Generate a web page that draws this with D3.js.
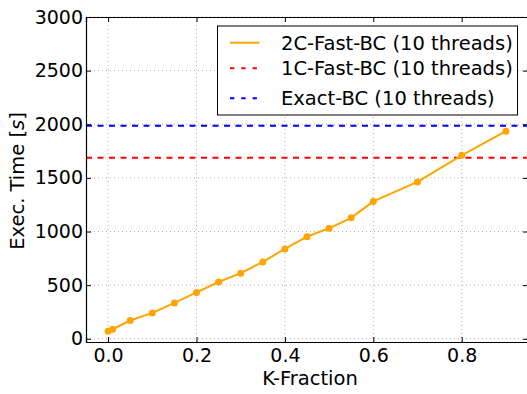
<!DOCTYPE html>
<html>
<head>
<meta charset="utf-8">
<script src="https://cdn.jsdelivr.net/npm/d3@7"></script>
<style>
  body { margin: 0; background: #fff; }
  svg { font-family: "DejaVu Sans", sans-serif; }
</style>
</head>
<body>
<div id="chart"></div>
<script>
// data
var kFraction = [0, 0.01, 0.05, 0.1, 0.15, 0.2, 0.25, 0.3, 0.35, 0.4, 0.45, 0.5, 0.55, 0.6, 0.7, 0.8, 0.9];
var twoCTime = [70, 89, 170, 241, 334, 432, 529, 612, 717, 838, 952, 1030, 1128, 1281, 1462, 1710, 1936];
var oneCTime = 1688;
var exactTime = 1985;
var xTicks = [0, 0.2, 0.4, 0.6, 0.8];
var yTicks = [0, 500, 1000, 1500, 2000, 2500, 3000];
var legendLabels = ["2C-Fast-BC (10 threads)", "1C-Fast-BC (10 threads)", "Exact-BC (10 threads)"];

var W = 527, H = 394;
var margin = {top: 17, right: -1, bottom: 52, left: 86},
    width = W - margin.left - margin.right,
    height = H - margin.top - margin.bottom;

var svg = d3.select("#chart")
  .append("svg")
    .attr("width", W)
    .attr("height", H)
  .append("g")
    .attr("transform", "translate(" + margin.left + "," + margin.top + ")");

var x = d3.scaleLinear().domain([-0.05, 0.95]).range([0, width]);
var y = d3.scaleLinear().domain([-30, 3000]).range([height, 0]);

// grid
svg.append("g").selectAll("line")
  .data(xTicks).enter().append("line")
    .attr("x1", d => x(d)).attr("x2", d => x(d))
    .attr("y1", 0).attr("y2", height)
    .attr("stroke", "#b0b0b0").attr("stroke-width", 1)
    .attr("stroke-dasharray", "1,3");
svg.append("g").selectAll("line")
  .data(yTicks).enter().append("line")
    .attr("y1", d => y(d)).attr("y2", d => y(d))
    .attr("x1", 0).attr("x2", width)
    .attr("stroke", "#b0b0b0").attr("stroke-width", 1)
    .attr("stroke-dasharray", "1,3");

// reference lines
svg.append("line")
  .attr("x1", 0).attr("x2", width)
  .attr("y1", y(oneCTime)).attr("y2", y(oneCTime))
  .attr("stroke", "#ff0000").attr("stroke-width", 2)
  .attr("stroke-dasharray", "6,5.5");
svg.append("line")
  .attr("x1", 0).attr("x2", width)
  .attr("y1", y(exactTime)).attr("y2", y(exactTime))
  .attr("stroke", "#0000ff").attr("stroke-width", 2)
  .attr("stroke-dasharray", "6,5.5");

// 2C line
var pts = kFraction.map((k, i) => [k, twoCTime[i]]);
svg.append("path")
  .datum(pts)
  .attr("fill", "none")
  .attr("stroke", "#ffa500")
  .attr("stroke-width", 2)
  .attr("d", d3.line().x(d => x(d[0])).y(d => y(d[1])));
svg.selectAll(".dot")
  .data(pts).enter().append("circle")
    .attr("cx", d => x(d[0])).attr("cy", d => y(d[1]))
    .attr("r", 3.5)
    .attr("fill", "#ffa500");

// axes (ticks inward, on all sides)
var fs = "19px";
var ax = svg.append("g")
  .attr("transform", "translate(0," + height + ")")
  .call(d3.axisBottom(x).tickValues(xTicks).tickFormat(d3.format(".1f")).tickSize(-5).tickPadding(6.5));
var ay = svg.append("g")
  .call(d3.axisLeft(y).tickValues(yTicks).tickFormat(d3.format("d")).tickSize(-5).tickPadding(3));
var axTop = svg.append("g")
  .call(d3.axisTop(x).tickValues(xTicks).tickFormat("").tickSize(-5));
var ayR = svg.append("g")
  .attr("transform", "translate(" + width + ",0)")
  .call(d3.axisRight(y).tickValues(yTicks).tickFormat("").tickSize(-5));
[ax, ay, axTop, ayR].forEach(function(g) {
  g.select(".domain").attr("stroke", "#000").attr("stroke-width", 1.2);
  g.selectAll(".tick line").attr("stroke", "#000");
  g.selectAll("text").style("font-size", fs).attr("fill", "#000")
    .style("font-family", "DejaVu Sans");
});

// axis labels
svg.append("text")
  .attr("x", 310 - margin.left).attr("y", 384.5 - margin.top)
  .attr("text-anchor", "middle")
  .style("font-size", "19.5px")
  .text("K-Fraction");
var yl = svg.append("text")
  .attr("transform", "translate(" + (24 - margin.left) + "," + (181 - margin.top) + ") rotate(-90)")
  .attr("text-anchor", "middle")
  .style("font-size", "19.5px");
yl.append("tspan").text("Exec. Time ");
yl.append("tspan").text("[").attr("fill", "#000");
yl.append("tspan").text("s").style("font-style", "italic");
yl.append("tspan").text("]");

// legend
var lg = svg.append("g").attr("transform", "translate(" + (217.5 - margin.left) + "," + (26 - margin.top) + ")");
lg.append("rect")
  .attr("width", 300).attr("height", 89)
  .attr("fill", "#fff").attr("stroke", "#000").attr("stroke-width", 1);
var lgColors = ["#ffa500", "#ff0000", "#0000ff"];
var lgDash = [null, "4.3,7", "4.3,7"];
var rowY = [16.7, 42.3, 72.3];
legendLabels.forEach(function(lab, i) {
  lg.append("line")
    .attr("x1", 12.5).attr("x2", 42)
    .attr("y1", rowY[i]).attr("y2", rowY[i])
    .attr("stroke", lgColors[i]).attr("stroke-width", 2)
    .attr("stroke-dasharray", lgDash[i]);
  lg.append("text")
    .attr("x", 63.5).attr("y", rowY[i])
    .attr("dy", "0.36em")
    .style("font-size", "19.5px")
    .text(lab);
});
</script>
</body>
</html>
